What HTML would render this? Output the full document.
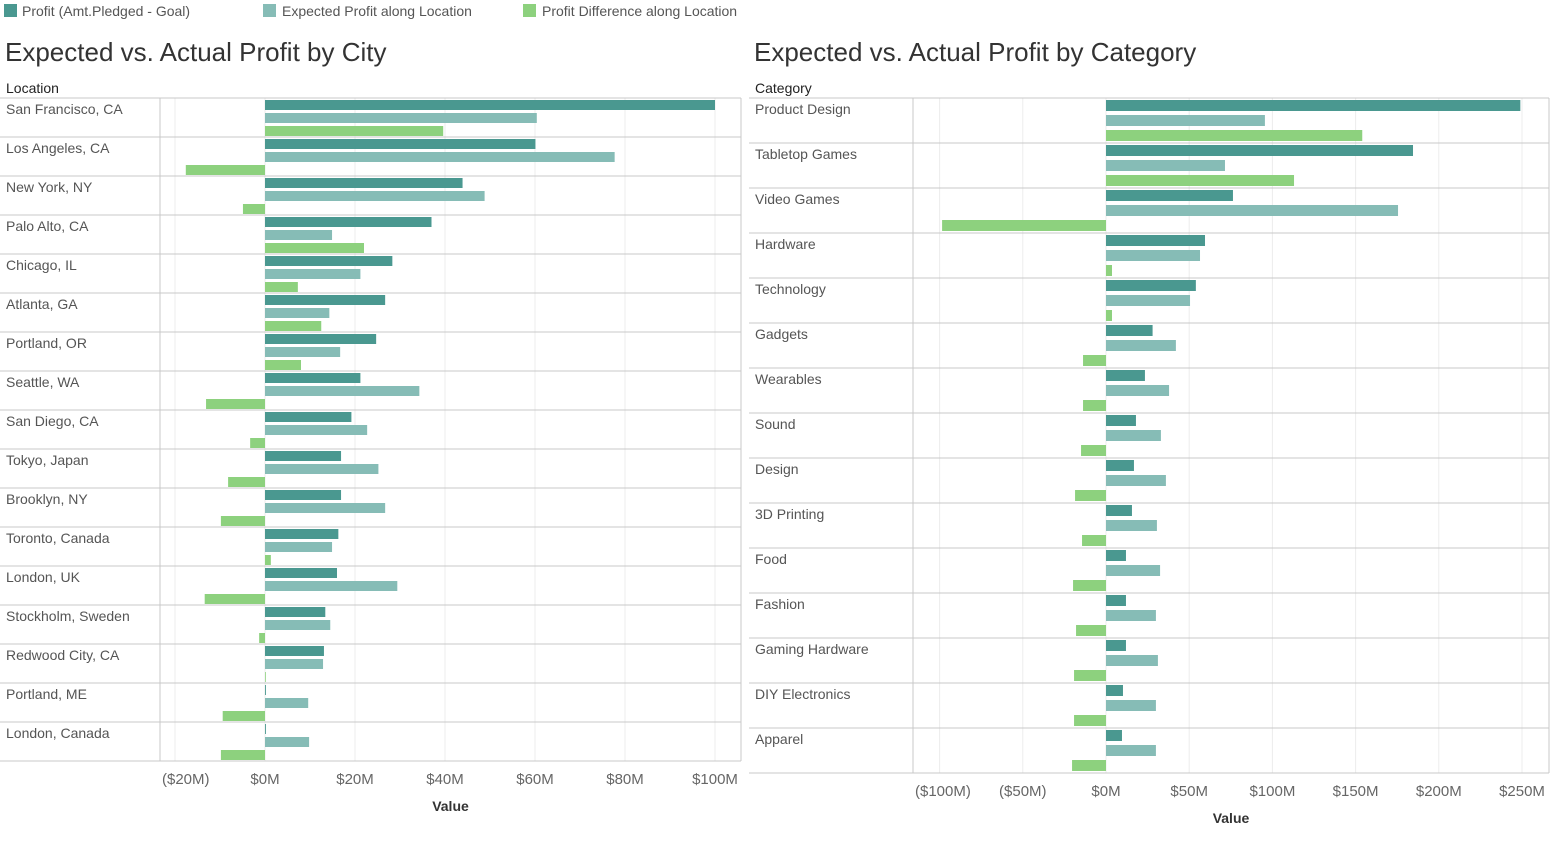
<!DOCTYPE html>
<html><head><meta charset="utf-8"><style>
body{margin:0;background:#fff;font-family:"Liberation Sans",sans-serif;}
svg text{font-family:"Liberation Sans",sans-serif;}
</style></head><body>
<svg width="1550" height="852" xmlns="http://www.w3.org/2000/svg">
<g id="legend">
<g><rect x="4" y="4" width="13" height="13" fill="#4a9890"/><text x="22" y="16" font-size="14" fill="#555">Profit (Amt.Pledged - Goal)</text></g>
<g><rect x="263" y="4" width="13" height="13" fill="#86bcb6"/><text x="282" y="16" font-size="14" fill="#555">Expected Profit along Location</text></g>
<g><rect x="523" y="4" width="13" height="13" fill="#8dd17e"/><text x="542" y="16" font-size="14" fill="#555">Profit Difference along Location</text></g>
</g>
<text x="5" y="61" font-size="26" fill="#333">Expected vs. Actual Profit by City</text>
<text x="754" y="61" font-size="26" fill="#333">Expected vs. Actual Profit by Category</text>
<text x="6" y="93" font-size="14" fill="#222">Location</text>
<text x="755" y="93" font-size="14" fill="#222">Category</text>
<g id="left"></g>
<g id="right"></g>
</svg>
<script>
const cities=["San Francisco, CA","Los Angeles, CA","New York, NY","Palo Alto, CA","Chicago, IL","Atlanta, GA","Portland, OR","Seattle, WA","San Diego, CA","Tokyo, Japan","Brooklyn, NY","Toronto, Canada","London, UK","Stockholm, Sweden","Redwood City, CA","Portland, ME","London, Canada"];
const cityProfit=[100,60.1,43.9,37,28.3,26.7,24.7,21.2,19.2,16.9,16.9,16.3,16,13.4,13.1,0.2,0.2];
const cityExpected=[60.4,77.7,48.8,14.9,21.2,14.3,16.7,34.3,22.7,25.2,26.7,14.9,29.4,14.5,12.9,9.6,9.8];
const cityDiff=[39.6,-17.6,-4.9,22,7.3,12.5,8,-13.1,-3.3,-8.2,-9.8,1.3,-13.4,-1.3,0,-9.4,-9.8];
const cityTicks=[-20,0,20,40,60,80,100];
const cats=["Product Design","Tabletop Games","Video Games","Hardware","Technology","Gadgets","Wearables","Sound","Design","3D Printing","Food","Fashion","Gaming Hardware","DIY Electronics","Apparel"];
const catProfit=[249,184.5,76.3,59.5,54,28,23.4,18,16.8,15.6,12,12,12,10.2,9.6];
const catExpected=[95.5,71.5,175.5,56.5,50.5,42,37.9,33,36,30.6,32.5,30,31.2,30,30];
const catDiff=[154,113,-98.5,3.6,3.6,-13.8,-13.8,-15,-18.6,-14.4,-19.8,-18,-19.2,-19.2,-20.4];
const catTicks=[-100,-50,0,50,100,150,200,250];
const NS="http://www.w3.org/2000/svg";
function mk(p,t,a){const e=document.createElementNS(NS,t);for(const k in a)e.setAttribute(k,a[k]);p.appendChild(e);return e;}
function fmt(v){return v<0?"($"+(-v)+"M)":"$"+v+"M";}
function draw(g,o){
 const x=v=>o.zero+v*o.k;
 const top=98,bottom=top+o.labels.length*o.rh;
 o.ticks.forEach(t=>{const l=mk(g,'line',{x1:x(t),x2:x(t),y1:top,y2:bottom,stroke:'#ececec'});
 
 const tx=mk(g,'text',{x:x(t),y:bottom+23,'font-size':15,fill:'#666','text-anchor':'middle'});tx.textContent=fmt(t);
 
 const bb=tx.getBBox();if(bb.x<o.pl+2)tx.setAttribute('x',x(t)+(o.pl+2-bb.x));});
 mk(g,'line',{x1:o.pl,x2:o.pl,y1:top,y2:bottom,stroke:'#c8c8c8'});
 mk(g,'line',{x1:o.pr,x2:o.pr,y1:top,y2:bottom,stroke:'#c8c8c8'});
 const cols=['#4a9890','#86bcb6','#8dd17e'];
 o.labels.forEach((lab,i)=>{const y0=top+i*o.rh;
  const ln=mk(g,'line',{x1:o.x0,x2:o.pr,y1:y0,y2:y0,stroke:'#c8c8c8'});
  
  const t=mk(g,'text',{x:o.x0+6,y:y0+16,'font-size':14,fill:'#555'});t.textContent=lab;
  
  [o.a,o.b,o.c].forEach((arr,j)=>{const v=arr[i];const r=mk(g,'rect',{x:Math.min(x(0),x(v)),y:y0+o.off[j],width:Math.max(Math.abs(v*o.k),0.8),height:o.bh,fill:cols[j]});
   });
 });
 mk(g,'line',{x1:o.x0,x2:o.pr,y1:bottom,y2:bottom,stroke:'#c8c8c8'});
 const at=mk(g,'text',{x:(o.pl+o.pr)/2,y:bottom+50,'font-size':14,fill:'#333','text-anchor':'middle','font-weight':'bold'});at.textContent='Value';
 
}
draw(document.getElementById('left'),{labels:cities,a:cityProfit,b:cityExpected,c:cityDiff,ticks:cityTicks,zero:265,k:4.5,rh:39,bh:10,off:[2,15,28],x0:0,pl:160,pr:741});
draw(document.getElementById('right'),{labels:cats,a:catProfit,b:catExpected,c:catDiff,ticks:catTicks,zero:1106,k:1.664,rh:45,bh:11,off:[2,17,32],x0:749,pl:913,pr:1549});
</script>
</body></html>
